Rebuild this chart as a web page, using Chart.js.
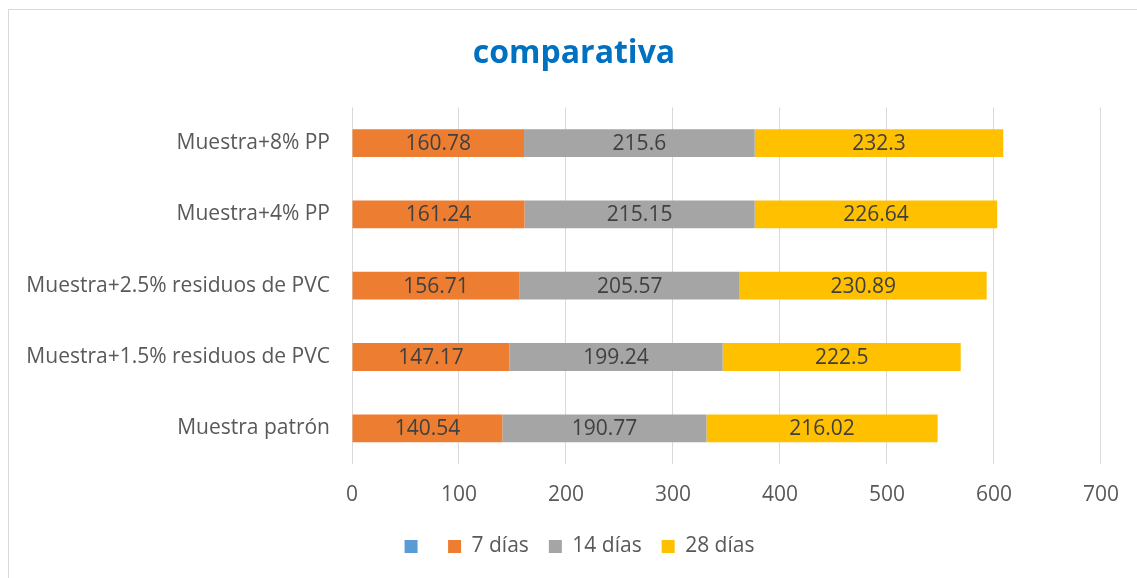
<!DOCTYPE html>
<html>
<head>
<meta charset="utf-8">
<script src="https://cdn.jsdelivr.net/npm/chart.js@4"></script>
<style>
  html, body { margin: 0; padding: 0; background: #fff; }
  #wrap { position: relative; width: 1137px; height: 578px; overflow: hidden; }
  #frame { position: absolute; left: 8px; top: 9px; width: 1200px; height: 600px;
           border-left: 1px solid #d9d9d9; border-top: 1px solid #d9d9d9; }
  #myChart { position: absolute; left: 0; top: 0; }
</style>
</head>
<body>
<div id="wrap">
  <div id="frame"></div>
  <canvas id="myChart" width="1137" height="578"></canvas>
</div>
<script>
// Categories, bottom to top as in the source sheet
const categories = ['Muestra patrón', 'Muestra+1.5% residuos de PVC', 'Muestra+2.5% residuos de PVC', 'Muestra+4% PP', 'Muestra+8% PP'];
const seriesNames = ['', '7 días', '14 días', '28 días'];
const blankSeries = [null, null, null, null, null];
const dias7 = [140.54, 147.17, 156.71, 161.24, 160.78];
const dias14 = [190.77, 199.24, 205.57, 215.15, 215.6];
const dias28 = [216.02, 222.5, 230.89, 226.64, 232.3];
const xTicks = [0, 100, 200, 300, 400, 500, 600, 700];

const colors = ['#5B9BD5', '#ED7D31', '#A5A5A5', '#FFC000'];
const FONT = '"Open Sans", Lato, sans-serif';

// Draw values in the middle of each bar segment
const barLabels = {
    id: 'barLabels',
    afterDatasetsDraw(chart) {
        const ctx = chart.ctx;
        ctx.save();
        ctx.font = '21px ' + FONT;
        ctx.fillStyle = '#404040';
        ctx.textAlign = 'center';
        ctx.textBaseline = 'middle';
        chart.data.datasets.forEach((ds, i) => {
            const meta = chart.getDatasetMeta(i);
            meta.data.forEach((bar, j) => {
                const v = ds.data[j];
                if (v === null || v === undefined) return;
                const cx = (bar.x + bar.base) / 2;
                ctx.fillText(String(v), cx, bar.y + 1);
            });
        });
        ctx.restore();
    }
};

// Center title and legend on the whole frame, not just the padded area
const recenter = {
    id: 'recenter',
    afterLayout(chart) {
        if (chart.titleBlock) {
            chart.titleBlock.left = 0;
            chart.titleBlock.right = 1148;
        }
        if (chart.legend) {
            chart.legend.left += 29;
            chart.legend.right += 29;
        }
    }
};

const allSeries = [blankSeries, dias7, dias14, dias28];

const ctx = document.getElementById('myChart').getContext('2d');
const myChart = new Chart(ctx, {
    type: 'bar',
    data: {
        labels: categories,
        datasets: allSeries.map((d, i) => ({
            label: seriesNames[i],
            data: d,
            backgroundColor: colors[i],
            borderWidth: 0,
            barPercentage: 0.39,
            categoryPercentage: 1
        }))
    },
    options: {
        indexAxis: 'y',
        responsive: false,
        animation: false,
        layout: { padding: { left: 0, right: 36, top: 0, bottom: 11 } },
        plugins: {
            title: {
                display: true,
                text: 'comparativa',
                color: '#0070C0',
                font: { family: FONT, size: 32, weight: 'bold' },
                padding: { top: 35, bottom: 34 }
            },
            legend: {
                display: true,
                position: 'bottom',
                labels: {
                    color: '#595959',
                    font: { family: FONT, size: 21 },
                    boxWidth: 13,
                    boxHeight: 13,
                    padding: 20
                }
            },
            tooltip: { enabled: false }
        },
        scales: {
            x: {
                stacked: true,
                min: 0,
                max: 700,
                afterBuildTicks: s => { s.ticks = xTicks.map(v => ({ value: v })); },
                afterFit: s => { s.height = 52; },
                grid: { color: '#d9d9d9', drawTicks: false, lineWidth: 1 },
                border: { display: false },
                ticks: {
                    color: '#595959',
                    font: { family: FONT, size: 21 },
                    padding: 18
                }
            },
            y: {
                stacked: true,
                reverse: true,
                afterFit: s => { s.width = 352; },
                grid: { display: false, drawTicks: false },
                border: { display: false },
                ticks: {
                    color: '#595959',
                    font: { family: FONT, size: 21 },
                    padding: 22
                }
            }
        }
    },
    plugins: [barLabels, recenter]
});
</script>
</body>
</html>
